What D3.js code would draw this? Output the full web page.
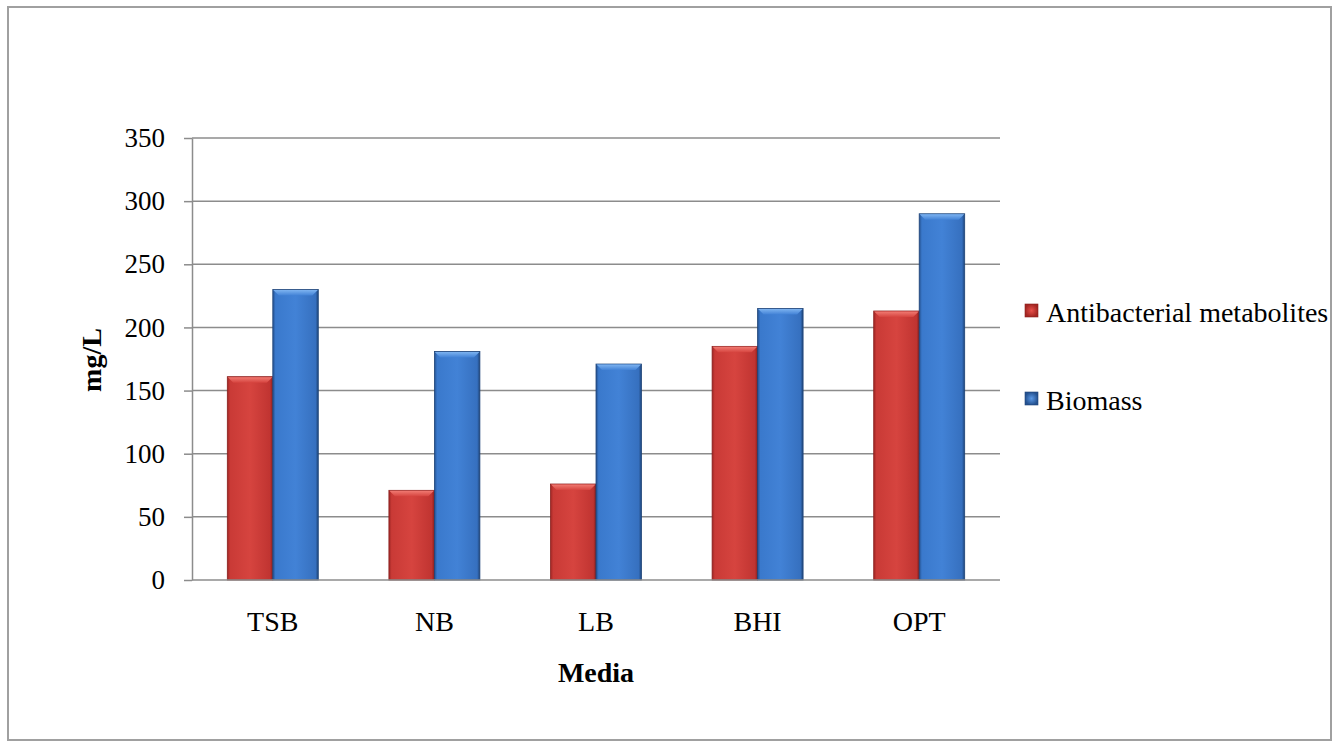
<!DOCTYPE html>
<html><head><meta charset="utf-8">
<script src="https://cdn.jsdelivr.net/npm/d3@7"></script>
<style>body{margin:0;background:#fff}svg{display:block}</style>
</head><body>
<svg id="c" width="1338" height="744"></svg>
<script>
const categories = ["TSB","NB","LB","BHI","OPT"];
const seriesNames = ["Antibacterial metabolites","Biomass"];
const antibacterial = [161, 71, 76, 185, 213];
const biomass = [230, 181, 171, 215, 290];
const yTicks = [0,50,100,150,200,250,300,350];

const svg = d3.select("#c");
const m = {left:192, right:1000, top:138, bottom:580};
const font = "'Liberation Serif','Times New Roman',serif";

svg.append("rect").attr("x",8).attr("y",7).attr("width",1323).attr("height",733)
  .attr("fill","#fff").attr("stroke","#a0a0a0").attr("stroke-width",2);

const defs = svg.append("defs");
function grad(id, stops){
  const g = defs.append("linearGradient").attr("id",id).attr("x1","0").attr("x2","1").attr("y1","0").attr("y2","0");
  stops.forEach(s=>g.append("stop").attr("offset",s[0]).attr("stop-color",s[1]));
}
grad("gRed",[[0,"#9e2624"],[0.06,"#c93a36"],[0.5,"#d6443f"],[0.94,"#c03431"],[1,"#8a1f1d"]]);
grad("gBlue",[[0,"#24518f"],[0.06,"#3a79cc"],[0.5,"#4282d6"],[0.94,"#3670bf"],[1,"#1e4478"]]);
const vg1 = defs.append("linearGradient").attr("id","gTopRed").attr("x1",0).attr("x2",0).attr("y1",0).attr("y2",1);
vg1.append("stop").attr("offset",0).attr("stop-color","#f07a72");
vg1.append("stop").attr("offset",1).attr("stop-color","#d6443f");
const vg2 = defs.append("linearGradient").attr("id","gTopBlue").attr("x1",0).attr("x2",0).attr("y1",0).attr("y2",1);
vg2.append("stop").attr("offset",0).attr("stop-color","#7db3f0");
vg2.append("stop").attr("offset",1).attr("stop-color","#4282d6");
const lg1 = defs.append("radialGradient").attr("id","gLegRed");
lg1.append("stop").attr("offset",0).attr("stop-color","#e8504a");
lg1.append("stop").attr("offset",1).attr("stop-color","#a32622");
const lg2 = defs.append("radialGradient").attr("id","gLegBlue");
lg2.append("stop").attr("offset",0).attr("stop-color","#5a98e6");
lg2.append("stop").attr("offset",1).attr("stop-color","#24518f");

const x0 = d3.scaleBand().domain(categories).range([m.left,m.right]).paddingInner(0.437).paddingOuter(0.2185);
const x1 = d3.scaleBand().domain(seriesNames).range([0,x0.bandwidth()]).padding(0);
const y = d3.scaleLinear().domain([0,350]).range([m.bottom,m.top]);

// gridlines
svg.append("g").selectAll("line").data(yTicks.filter(d=>d>0)).join("line")
  .attr("x1",m.left).attr("x2",m.right).attr("y1",d=>y(d)).attr("y2",d=>y(d))
  .attr("stroke","#8c8c8c").attr("stroke-width",1.5);

// y axis
const yAxis = d3.axisLeft(y).tickValues(yTicks).tickSize(8).tickPadding(19).tickSizeOuter(0);
const ga = svg.append("g").attr("transform",`translate(${m.left},0)`).call(yAxis);
ga.select(".domain").attr("stroke","#8c8c8c").attr("stroke-width",1.5);
ga.selectAll(".tick line").attr("stroke","#8c8c8c").attr("stroke-width",1.5);
ga.selectAll("text").attr("font-family",font).attr("font-size",27).attr("fill","#000");

// bars
const data = categories.map((c,i)=>({c, vals:[{s:seriesNames[0],v:antibacterial[i]},{s:seriesNames[1],v:biomass[i]}]}));
const fills = {[seriesNames[0]]:["url(#gRed)","url(#gTopRed)","#8a1f1d"],[seriesNames[1]]:["url(#gBlue)","url(#gTopBlue)","#1e4478"]};
const grp = svg.append("g").selectAll("g").data(data).join("g").attr("transform",d=>`translate(${x0(d.c)},0)`);
const bars = grp.selectAll("g").data(d=>d.vals).join("g");
bars.append("rect")
  .attr("x",d=>x1(d.s)).attr("y",d=>y(d.v)).attr("width",x1.bandwidth()).attr("height",d=>y(0)-y(d.v))
  .attr("fill",d=>fills[d.s][0]).attr("stroke",d=>fills[d.s][2]).attr("stroke-width",0.8);
bars.append("path")
  .attr("d",d=>{const xa=x1(d.s), xb=xa+x1.bandwidth(), yt=y(d.v), b=6;
    return `M${xa+0.5},${yt+0.5}L${xb-0.5},${yt+0.5}L${xb-b},${yt+b}L${xa+b},${yt+b}Z`;})
  .attr("fill",d=>fills[d.s][1]);

// x axis
svg.append("line").attr("x1",m.left).attr("x2",m.right).attr("y1",m.bottom).attr("y2",m.bottom)
  .attr("stroke","#8c8c8c").attr("stroke-width",1.5);
svg.append("g").selectAll("text").data(categories).join("text")
  .attr("x",d=>x0(d)+x0.bandwidth()/2).attr("y",631).attr("text-anchor","middle")
  .attr("font-family",font).attr("font-size",28).text(d=>d);

// axis titles
svg.append("text").attr("x",596).attr("y",682).attr("text-anchor","middle")
  .attr("font-family",font).attr("font-size",28).attr("font-weight","bold").text("Media");
svg.append("text").attr("transform",`translate(101,360) rotate(-90)`).attr("text-anchor","middle")
  .attr("font-family",font).attr("font-size",28).attr("font-weight","bold").text("mg/L");

// legend
const leg = svg.append("g").selectAll("g").data(seriesNames).join("g")
  .attr("transform",(d,i)=>`translate(1025,${304+i*88})`);
leg.append("rect").attr("width",13).attr("height",13)
  .attr("fill",(d,i)=>i===0?"url(#gLegRed)":"url(#gLegBlue)").attr("stroke",(d,i)=>i===0?"#8a1f1d":"#1e4478").attr("stroke-width",0.6);
leg.append("text").attr("x",21).attr("y",18).attr("font-family",font).attr("font-size",28).text(d=>d);
</script>
</body></html>
